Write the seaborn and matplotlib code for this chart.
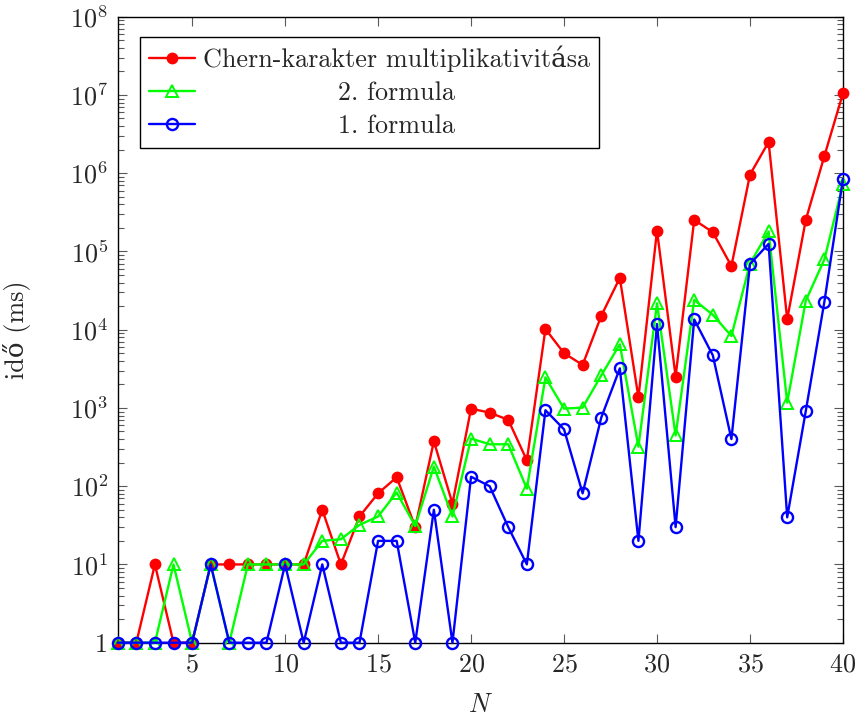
import numpy as np
import pandas as pd
import seaborn as sns
import matplotlib.pyplot as plt
from matplotlib.ticker import FixedLocator, LogLocator, NullFormatter

# adatok (leolvasva az abrarol)
N = list(range(1, 41))
chern = [1, 1, 10, 1, 1, 10, 10, 10, 10, 10, 10, 50, 10, 41, 81, 130, 30, 375, 60, 980,
         870, 705, 214, 10200, 5000, 3550, 15000, 46000, 1360, 185000, 2520, 253000,
         176000, 65000, 960000, 2.5e6, 13600, 253000, 1.66e6, 1.05e7]
formula2 = [1, 1, 1, 10, 1, 10, 1, 10, 10, 10, 10, 20, 21, 32, 41, 83, 31, 178, 41, 406,
            343, 343, 93, 2450, 980, 1010, 2600, 6500, 320, 21700, 445, 24000,
            15500, 8300, 70000, 180000, 1170, 23500, 79000, 730000]
formula1 = [1, 1, 1, 1, 1, 10, 1, 1, 1, 10, 1, 10, 1, 1, 20, 20, 1, 50, 1, 132,
            100, 30, 10, 935, 533, 81, 750, 3200, 20, 11800, 30, 13500,
            4700, 400, 69000, 125000, 40, 915, 22800, 850000]
labels = ["Chern-karakter multiplikativitása", "2. formula", "1. formula"]
yticks = [10.0 ** k for k in range(0, 9)]
ytick_labels = ["1"] + [f"$10^{{{k}}}$" for k in range(1, 9)]
xticks = [5, 10, 15, 20, 25, 30, 35, 40]

df = pd.concat([
    pd.DataFrame({"N": N, "ido": chern, "sor": labels[0]}),
    pd.DataFrame({"N": N, "ido": formula2, "sor": labels[1]}),
    pd.DataFrame({"N": N, "ido": formula1, "sor": labels[2]}),
])

sns.set_style("ticks")
plt.rcParams["font.family"] = ["cmr10", "DejaVu Serif"]
plt.rcParams["mathtext.fontset"] = "cm"
plt.rcParams["axes.formatter.use_mathtext"] = True
plt.rcParams["axes.unicode_minus"] = False
fs = 18.8

fig = plt.figure(figsize=(8.58, 7.16), dpi=100)
ax = fig.add_axes([0.1372, 0.1024, 0.8453, 0.8743])

styles = {
    labels[0]: dict(color="red", marker="o", markersize=8.5, markeredgewidth=0,
                    markerfacecolor="red"),
    labels[1]: dict(color="#00ff00", marker="^", markersize=8, markeredgewidth=1.4,
                    markerfacecolor="none", markeredgecolor="#00ff00"),
    labels[2]: dict(color="blue", marker="o", markersize=8, markeredgewidth=1.7,
                    markerfacecolor="none", markeredgecolor="blue"),
}
for lab in labels:
    sub = df[df["sor"] == lab]
    sns.lineplot(data=sub, x="N", y="ido", ax=ax, label=lab, linewidth=1.7,
                 clip_on=False, zorder=3, **styles[lab])

ax.set_yscale("log")
ax.set_xlim(1, 40)
ax.set_ylim(1, 1e8)
ax.yaxis.set_major_locator(FixedLocator(yticks))
ax.set_yticklabels(ytick_labels)
ax.yaxis.set_minor_locator(LogLocator(base=10, subs=np.arange(2, 10), numticks=20))
ax.yaxis.set_minor_formatter(NullFormatter())
ax.xaxis.set_major_locator(FixedLocator(xticks))
ax.set_xticklabels([f"${x}$" for x in xticks])
ax.tick_params(axis="both", which="both", direction="in", top=True, right=True,
               labelsize=fs, color="0.35", width=0.8)
ax.tick_params(axis="both", which="major", length=6.5, pad=7)
ax.tick_params(axis="y", which="minor", length=4)
for sp in ax.spines.values():
    sp.set_linewidth(1.0)
    sp.set_color("black")

ax.set_xlabel("$N$", fontsize=fs, labelpad=12)
ax.set_ylabel("idő (ms)", fontsize=fs, labelpad=28)

# legenda: a szovegek kozepre igazitva (mint pgfplots-ban)
leg = ax.legend(loc="upper left", bbox_to_anchor=(0.031, 0.968), borderaxespad=0,
                fontsize=fs, frameon=True, fancybox=False, framealpha=1,
                edgecolor="black", handlelength=1.75, handletextpad=0.3,
                borderpad=0.35, labelspacing=0.25)
leg.get_frame().set_linewidth(1.0)
leg.set_zorder(5)
texts = leg.get_texts()
for t in texts[1:]:
    t.set_text(labels[0])
    t.set_alpha(0)
fig.canvas.draw()
inv = fig.transFigure.inverted()
for t, lab in zip(texts[1:], labels[1:]):
    bb = t.get_window_extent()
    bx, by = t.get_transform().transform((0, 0))
    cx = bb.x0 + bb.width / 2
    fx, fy = inv.transform((cx, by))
    fig.text(fx, fy, lab, ha="center", va="baseline", fontsize=fs, zorder=6)

fig.savefig("out.png", dpi=100)
